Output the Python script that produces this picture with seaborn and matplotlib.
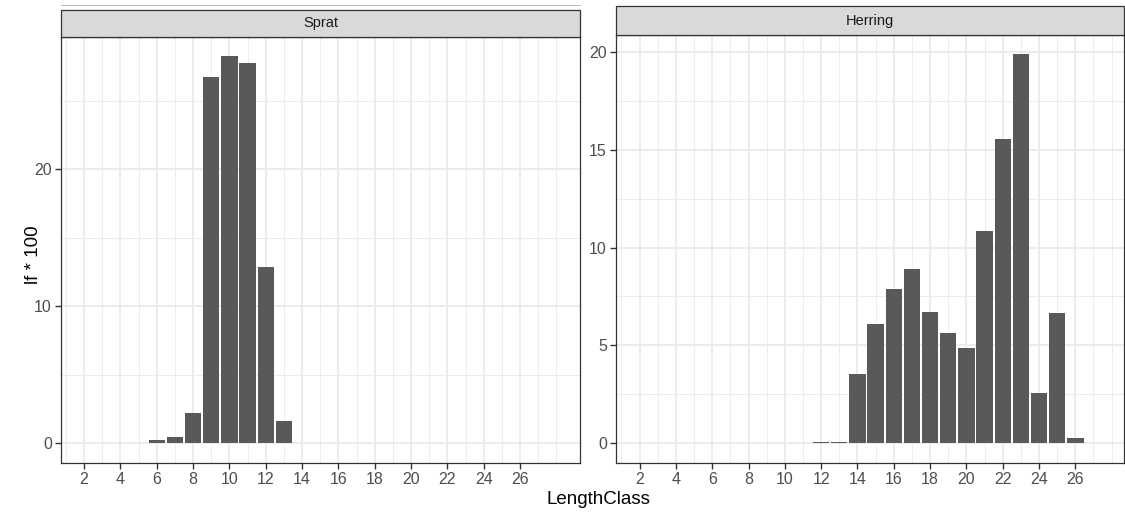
import matplotlib
matplotlib.use("Agg")
import matplotlib.pyplot as plt
import seaborn as sns
import pandas as pd
import numpy as np
from matplotlib.patches import Rectangle
from matplotlib.lines import Line2D

# ---- data ----
sprat_len = [6, 7, 8, 9, 10, 11, 12, 13]
sprat_val = [0.24, 0.48, 2.19, 26.77, 28.25, 27.8, 12.87, 1.65]
herring_len = [12, 13, 14, 15, 16, 17, 18, 19, 20, 21, 22, 23, 24, 25, 26]
herring_val = [0.08, 0.08, 3.55, 6.08, 7.86, 8.93, 6.71, 5.63, 4.85, 10.85, 15.55, 19.87, 2.59, 6.68, 0.25]
x_ticks = list(range(2, 27, 2))
sprat_yticks = [0, 10, 20]
herring_yticks = [0, 5, 10, 15, 20]
panel_titles = ["Sprat", "Herring"]
x_label = "LengthClass"
y_label = "lf * 100"

sns.set_theme(style="white")
plt.rcParams['font.family'] = ['Liberation Sans', 'DejaVu Sans']

W, H = 1125, 512
fig = plt.figure(figsize=(W / 100, H / 100), dpi=100)

def fx(px):
    return px / W

def fy(py):
    return 1 - py / H

bar_color = "#595959"
grid_color = "#EBEBEB"
border_color = "#333333"

specs = [
    dict(left=61, right=580, top=37, bottom=462.7, strip_top=10,
         lens=sprat_len, vals=sprat_val, yticks=sprat_yticks, title=panel_titles[0],
         xlim=(0.73, 29.3)),
    dict(left=616, right=1124, top=35, bottom=462.7, strip_top=6,
         lens=herring_len, vals=herring_val, yticks=herring_yticks, title=panel_titles[1],
         xlim=(0.70, 28.68)),
]

for s in specs:
    ax = fig.add_axes([fx(s["left"]), fy(s["bottom"]),
                       (s["right"] - s["left"]) / W, (s["bottom"] - s["top"]) / H])
    df = pd.DataFrame({"LengthClass": s["lens"], "val": s["vals"]})
    sns.barplot(data=df, x="LengthClass", y="val", native_scale=True, width=0.9,
                color=bar_color, saturation=1, edgecolor="none", linewidth=0, ax=ax, zorder=3)
    ymax = max(s["vals"])
    ax.set_ylim(-0.05 * ymax, 1.05 * ymax)
    ax.set_xlim(*s["xlim"])

    # grid lines (ggplot theme_bw style)
    for xv in range(1, 29):
        lw = 1.3 if (xv % 2 == 0 and xv <= 26) else 0.65
        ax.axvline(xv, color=grid_color, lw=lw, zorder=0)
    yt = s["yticks"]
    step = yt[1] - yt[0]
    for yv in yt:
        ax.axhline(yv, color=grid_color, lw=1.3, zorder=0)
    minor = np.arange(yt[0] - step, yt[-1] + 2 * step, step / 2.0)
    for yv in minor:
        if yv not in yt:
            ax.axhline(yv, color=grid_color, lw=0.65, zorder=0)

    ax.set_xticks(x_ticks)
    ax.set_xticklabels([str(t) for t in x_ticks])
    ax.set_yticks(yt)
    ax.set_yticklabels([str(t) for t in yt])
    ax.tick_params(axis="both", which="major", length=4, width=1.0, color=border_color,
                   labelcolor="#4D4D4D", labelsize=11.5, pad=2.5,
                   bottom=True, left=True)
    ax.set_xlabel("")
    ax.set_ylabel("")
    ax.grid(False)
    for sp in ax.spines.values():
        sp.set_visible(True)
        sp.set_color(border_color)
        sp.set_linewidth(0.9)
    ax.set_facecolor("white")

    # strip
    rect = Rectangle((fx(s["left"]), fy(s["top"])), (s["right"] - s["left"]) / W,
                     (s["top"] - s["strip_top"]) / H, transform=fig.transFigure,
                     facecolor="#D9D9D9", edgecolor=border_color, linewidth=0.9)
    fig.add_artist(rect)
    fig.text(fx((s["left"] + s["right"]) / 2), fy((s["top"] + s["strip_top"]) / 2), s["title"],
             ha="center", va="center", fontsize=10.5, color="#1A1A1A")

# faint line above first strip
fig.add_artist(Line2D([fx(61), fx(580)], [fy(5), fy(5)], transform=fig.transFigure,
                      color="#BBBBBB", lw=0.8))

fig.text(fx(598), fy(499), x_label, ha="center", va="center", fontsize=13.5, color="black")
fig.text(fx(33), fy(255), y_label, ha="center", va="center", rotation=90,
         fontsize=13.5, color="black")

fig.savefig("out.png", dpi=100)
